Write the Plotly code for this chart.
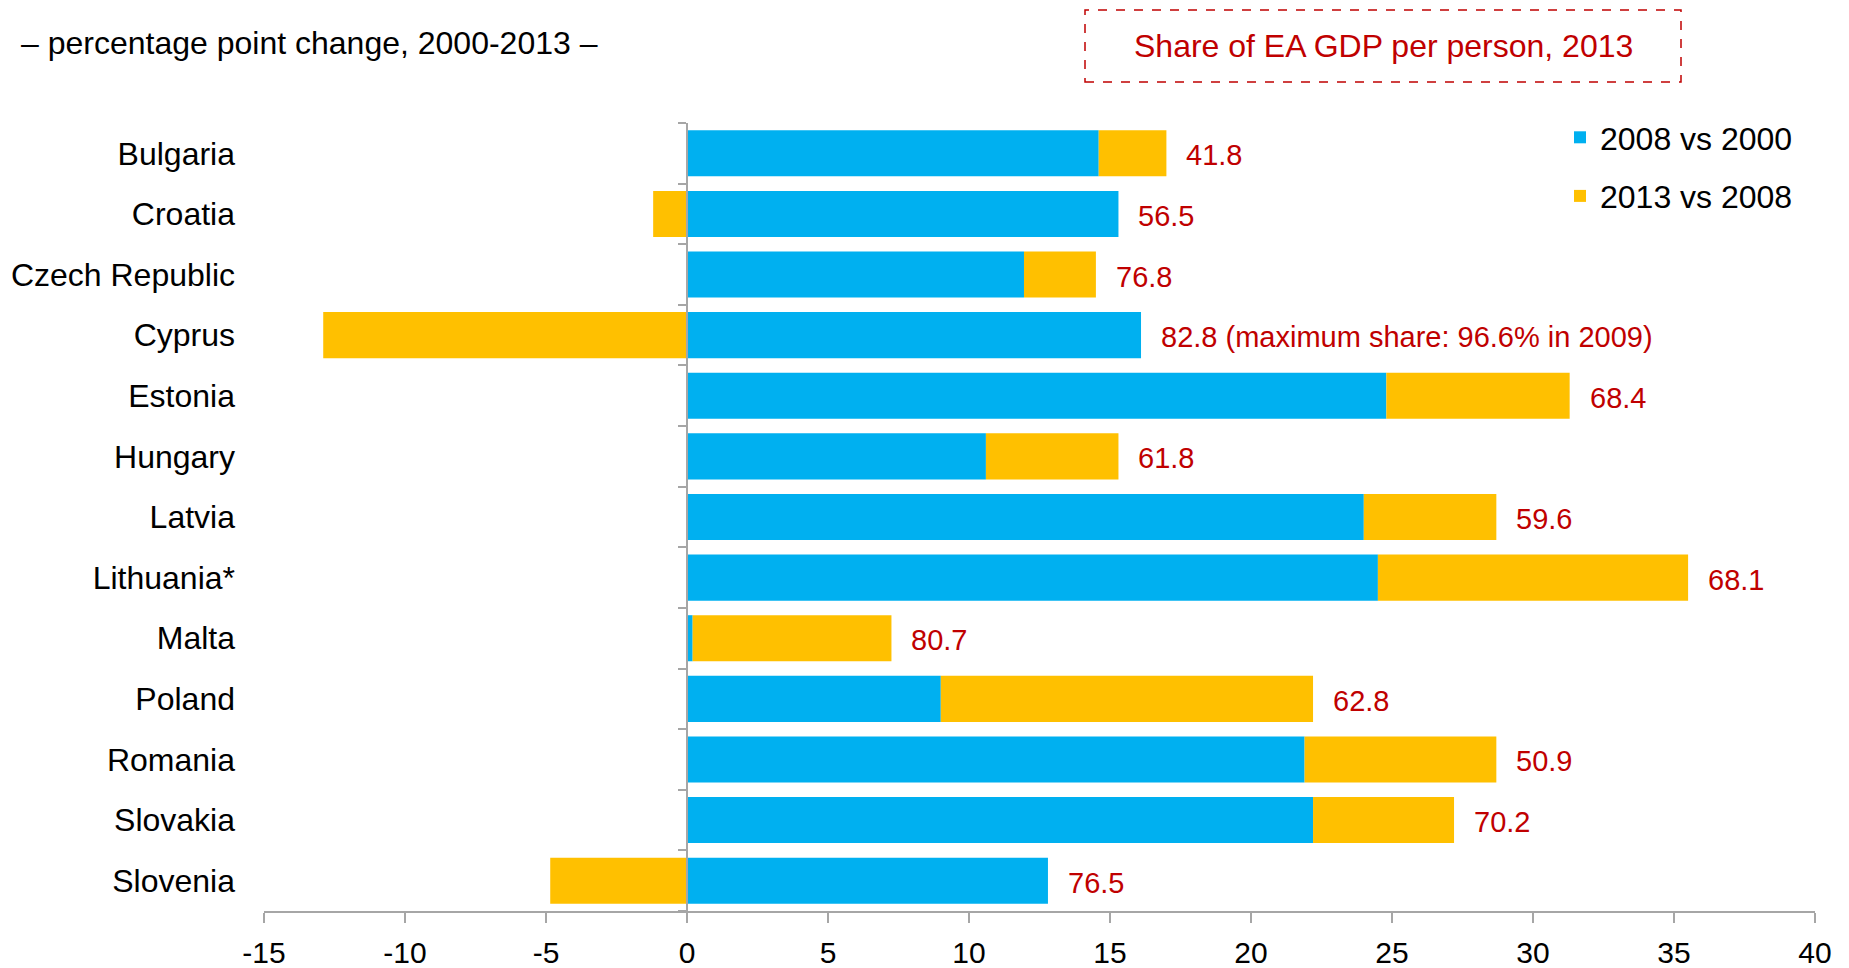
import plotly.graph_objects as go

countries = ["Bulgaria", "Croatia", "Czech Republic", "Cyprus", "Estonia", "Hungary",
             "Latvia", "Lithuania*", "Malta", "Poland", "Romania", "Slovakia", "Slovenia"]
change_2008_vs_2000 = [14.6, 15.3, 11.95, 16.1, 24.8, 10.6, 24.0, 24.5, 0.2, 9.0, 21.9, 22.2, 12.8]
change_2013_vs_2008 = [2.4, -1.2, 2.55, -12.9, 6.5, 4.7, 4.7, 11.0, 7.05, 13.2, 6.8, 5.0, -4.85]
share_labels = ["41.8", "56.5", "76.8", "82.8 (maximum share: 96.6% in 2009)", "68.4", "61.8",
                "59.6", "68.1", "80.7", "62.8", "50.9", "70.2", "76.5"]
x_ticks = [-15, -10, -5, 0, 5, 10, 15, 20, 25, 30, 35, 40]
x_tick_text = ["-15", "-10", "-5", "0", "5", "10", "15", "20", "25", "30", "35", "40"]

BLUE = "#00B0F0"
YELLOW = "#FFC000"
RED = "#C00000"
GRAY = "#A6A6A6"
FONT = "Liberation Sans, Arial, sans-serif"

W_PX, H_PX = 1849, 968
L, R, T, B = 264, 1815, 123, 911


def px(x):
    return (x - L) / (R - L)


def py(y):
    return (B - y) / (B - T)


fig = go.Figure()
fig.add_trace(go.Bar(y=countries, x=change_2008_vs_2000, orientation="h", name="2008 vs 2000",
                     marker=dict(color=BLUE, line=dict(width=0)), legendgroup="a"))
fig.add_trace(go.Bar(y=countries, x=change_2013_vs_2008, orientation="h", name="2013 vs 2008",
                     marker=dict(color=YELLOW, line=dict(width=0)), legendgroup="b"))
# carrier trace so the zero-axis (yaxis2) is drawn
fig.add_trace(go.Scatter(x=[None], y=[None], yaxis="y2", showlegend=False,
                         hoverinfo="skip", mode="markers"))

annotations = []
for c, b, yv, lab in zip(countries, change_2008_vs_2000, change_2013_vs_2008, share_labels):
    end = b + max(yv, 0)
    annotations.append(dict(x=end, y=c, xref="x", yref="y", text=lab, showarrow=False,
                            xanchor="left", yanchor="middle", xshift=18, yshift=-2,
                            font=dict(family=FONT, size=29, color=RED)))

annotations.append(dict(x=px(19), y=py(43), xref="paper", yref="paper",
                        text="\u2013 percentage point change, 2000-2013 \u2013", showarrow=False,
                        xanchor="left", yanchor="middle",
                        font=dict(family=FONT, size=32, color="#000000")))
annotations.append(dict(x=px(1383), y=py(46), xref="paper", yref="paper",
                        text="Share of EA GDP per person, 2013", showarrow=False,
                        xanchor="center", yanchor="middle",
                        font=dict(family=FONT, size=32, color=RED)))

shapes = [dict(type="rect", xref="paper", yref="paper", x0=px(1085), x1=px(1681),
               y0=py(82), y1=py(10), line=dict(color=RED, width=1.5, dash="dash"))]

n = len(countries)
boundaries = [i - 0.5 for i in range(n + 1)]

fig.update_layout(
    width=W_PX, height=H_PX,
    margin=dict(l=L, r=W_PX - R, t=T, b=H_PX - B, pad=0, autoexpand=False),
    paper_bgcolor="white", plot_bgcolor="white",
    barmode="relative", bargap=0.24,
    font=dict(family=FONT, size=30, color="#000000"),
    showlegend=True,
    legend=dict(x=px(1560), y=py(110), xanchor="left", yanchor="top",
                traceorder="grouped", tracegroupgap=14,
                font=dict(family=FONT, size=32, color="#000000"),
                bgcolor="rgba(0,0,0,0)"),
    xaxis=dict(range=[-15, 40], tickvals=x_ticks, ticktext=x_tick_text, ticks="outside",
               ticklen=10, tickwidth=1.5, tickcolor=GRAY, showline=True, linecolor=GRAY,
               linewidth=1.5, showgrid=False, zeroline=False, ticklabelstandoff=4,
               automargin=False, tickfont=dict(family=FONT, size=30)),
    yaxis=dict(type="category", categoryorder="array", categoryarray=countries,
               autorange="reversed", showline=False, ticks="", showgrid=False,
               zeroline=False, ticklabelstandoff=28, automargin=False,
               tickfont=dict(family=FONT, size=32)),
    yaxis2=dict(overlaying="y", anchor="free", position=px(687), side="left",
                range=[n - 0.5, -0.5], tickvals=boundaries, showticklabels=False,
                ticks="outside", ticklen=8, tickwidth=1.5, tickcolor=GRAY, automargin=False,
                showline=True, linecolor=GRAY, linewidth=1.5, showgrid=False, zeroline=False),
    annotations=annotations,
    shapes=shapes,
)

fig.write_html("out.html")
